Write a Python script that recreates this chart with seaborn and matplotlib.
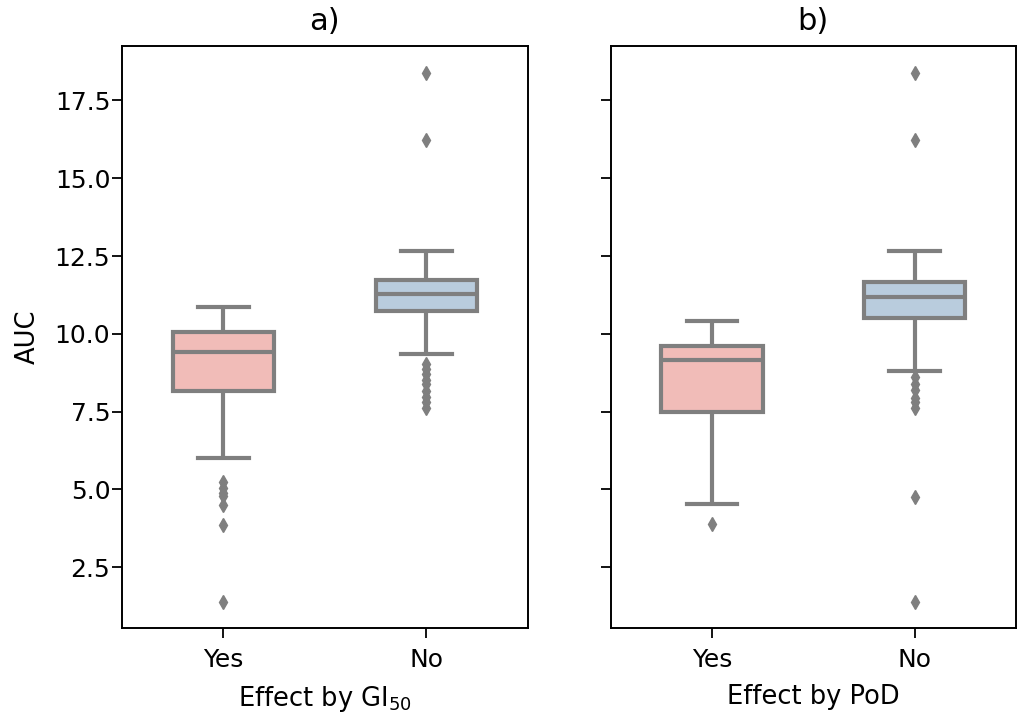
import numpy as np
import pandas as pd
import seaborn as sns
import matplotlib.pyplot as plt

# AUC values (each group's sorted values)
gi50_yes = [1.39, 3.86, 4.49, 4.79, 4.90, 5.06, 5.25,
            6.00, 6.90, 7.60, 8.17,
            8.30, 8.45, 8.60, 8.75, 8.90, 9.00, 9.10, 9.22, 9.33, 9.42,
            9.48, 9.55, 9.60, 9.68, 9.75, 9.82, 9.88, 9.94, 10.00, 10.05,
            10.12, 10.20, 10.28, 10.35, 10.42, 10.50, 10.58, 10.66, 10.75, 10.87]
gi50_no = [7.62, 7.80, 7.96, 8.17, 8.38, 8.50, 8.72, 8.88, 9.03,
           9.36, 9.70, 10.00, 10.25, 10.45, 10.60, 10.74,
           10.78, 10.82, 10.86, 10.90, 10.94, 10.98, 11.02, 11.06, 11.10,
           11.13, 11.16, 11.19, 11.22, 11.25, 11.27,
           11.30, 11.33, 11.36, 11.39, 11.42, 11.45, 11.48, 11.51, 11.54,
           11.57, 11.60, 11.63, 11.66, 11.69, 11.72,
           11.76, 11.80, 11.85, 11.90, 11.95, 12.00, 12.06, 12.12, 12.20,
           12.30, 12.42, 12.55, 12.67, 16.24, 18.39]
pod_yes = [3.88, 4.52, 5.60, 6.50, 7.10, 7.50,
           7.90, 8.30, 8.70, 8.95, 9.16,
           9.25, 9.35, 9.45, 9.53, 9.60,
           9.75, 9.90, 10.05, 10.20, 10.40]
pod_no = [1.39, 4.76, 7.60, 7.80, 7.95, 8.20, 8.40, 8.60,
          8.79, 9.30, 9.70, 10.00, 10.20, 10.33, 10.43, 10.50,
          10.56, 10.62, 10.68, 10.74, 10.80, 10.85, 10.90, 10.95, 11.00,
          11.04, 11.08, 11.11, 11.13, 11.15, 11.17,
          11.21, 11.25, 11.29, 11.33, 11.37, 11.41, 11.45, 11.48, 11.51,
          11.54, 11.57, 11.60, 11.63, 11.66, 11.68,
          11.72, 11.77, 11.82, 11.88, 11.94, 12.00, 12.07, 12.14, 12.22,
          12.30, 12.40, 12.52, 12.67, 16.24, 18.39]

order = ["Yes", "No"]
panels = [
    ("a)", r"Effect by GI$_{50}$", gi50_yes, gi50_no),
    ("b)", "Effect by PoD", pod_yes, pod_no),
]

fig, axes = plt.subplots(1, 2, sharey=True, figsize=(10.18, 7.13), dpi=100)
fig.subplots_adjust(left=0.12, right=0.998, top=0.935, bottom=0.119, wspace=0.205)

gray = "#7f7f7f"
for ax, (title, xlabel, yes, no) in zip(axes, panels):
    df = pd.DataFrame({
        "effect": ["Yes"] * len(yes) + ["No"] * len(no),
        "AUC": yes + no,
    })
    sns.boxplot(data=df, x="effect", y="AUC", hue="effect", order=order,
                hue_order=order, palette="Pastel1", legend=False, width=0.5,
                linewidth=3, linecolor=gray, ax=ax,
                flierprops=dict(marker="d", markerfacecolor=gray,
                                markeredgecolor=gray, markersize=7))
    ax.set_title(title, fontsize=22, pad=12)
    ax.set_xlabel(xlabel, fontsize=18.5, labelpad=9)
    ax.tick_params(labelsize=18, length=7, width=1.3)
    ax.tick_params(axis="x", pad=7)
    ax.tick_params(axis="y", pad=1.5)
    for s in ax.spines.values():
        s.set_linewidth(1.4)

axes[0].set_ylabel("AUC", fontsize=18.5, labelpad=10)
axes[1].set_ylabel("")
axes[0].set_yticks([2.5, 5.0, 7.5, 10.0, 12.5, 15.0, 17.5])

fig.savefig("out.png", dpi=100)
